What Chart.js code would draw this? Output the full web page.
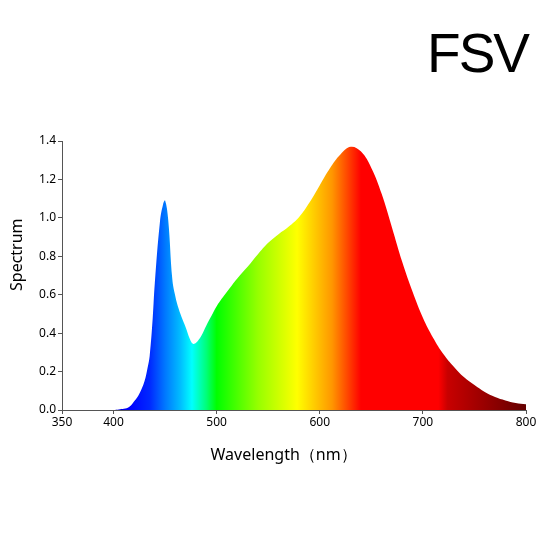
<!DOCTYPE html>
<html lang="en">
<head>
    <meta charset="UTF-8">
    <title>FSV</title>
    <style>
        body { margin: 0; background: #fff; }
        #wrap { position: relative; width: 555px; height: 555px; }
        #titulo {
            position: absolute; right: 27px; top: 18px;
            font-family: "Liberation Sans", Arial, sans-serif;
            font-size: 55px; line-height: 70px; color: #000;
            letter-spacing: -2px;
        }
    </style>
</head>
<body>
    <div id="wrap">
        <div id="titulo">FSV</div>
        <canvas id="myChart" width="555" height="555"></canvas>
    </div>

    <script src="https://cdn.jsdelivr.net/npm/chart.js@4"></script>
    <script>
        // wavelength (nm) and relative spectrum
        const wavelengths = [400, 405, 410, 415, 420, 425, 430, 433, 435, 438, 440, 445, 448, 450, 453, 457, 460, 463, 467, 470, 474, 477, 480, 485, 490, 495, 500, 510, 520, 530, 540, 550, 560, 570, 580, 590, 600, 610, 620, 630, 640, 650, 660, 670, 680, 690, 700, 710, 720, 730, 740, 750, 760, 770, 780, 790, 800];
        const spectrum = [0, 0.003, 0.006, 0.015, 0.045, 0.085, 0.15, 0.22, 0.28, 0.48, 0.66, 0.98, 1.07, 1.09, 0.99, 0.68, 0.59, 0.53, 0.47, 0.43, 0.37, 0.345, 0.35, 0.385, 0.44, 0.49, 0.54, 0.615, 0.685, 0.745, 0.81, 0.87, 0.915, 0.955, 1.005, 1.08, 1.17, 1.26, 1.33, 1.37, 1.345, 1.26, 1.125, 0.95, 0.77, 0.615, 0.48, 0.375, 0.29, 0.225, 0.17, 0.13, 0.094, 0.068, 0.05, 0.036, 0.03];
        const xTicks = [350, 400, 500, 600, 700, 800];
        const yTicks = [0, 0.2, 0.4, 0.6, 0.8, 1.0, 1.2, 1.4];

        // colores del espectro (nm, color)
        const paradas = [
            [400, 'rgb(0,0,200)'], [415, 'rgb(0,0,255)'], [435, 'rgb(0,40,255)'],
            [450, 'rgb(0,120,255)'], [465, 'rgb(0,190,255)'], [476, 'rgb(0,255,255)'],
            [490, 'rgb(0,255,120)'], [500, 'rgb(0,255,0)'], [540, 'rgb(150,255,0)'],
            [578, 'rgb(255,255,0)'], [612, 'rgb(255,150,0)'], [640, 'rgb(255,0,0)'],
            [715, 'rgb(255,0,0)'], [724, 'rgb(200,0,0)'], [800, 'rgb(100,0,0)']
        ];

        function gradiente(context) {
            const chart = context.chart;
            const area = chart.chartArea;
            if (!area) return 'rgba(0,0,0,0)';
            const x = chart.scales.x;
            const g = chart.ctx.createLinearGradient(area.left, 0, area.right, 0);
            const ancho = area.right - area.left;
            paradas.forEach(([nm, color]) => {
                const pos = (x.getPixelForValue(nm) - area.left) / ancho;
                g.addColorStop(Math.min(1, Math.max(0, pos)), color);
            });
            return g;
        }

        const fuente = { family: '"Noto Sans", "Open Sans", sans-serif', size: 12 };
        const fuenteTitulo = { family: '"Noto Sans", "Open Sans", sans-serif', size: 16 };
        const ejeColor = '#555';

        const ctx = document.getElementById('myChart').getContext('2d');
        new Chart(ctx, {
            type: 'line',
            data: {
                datasets: [{
                    data: wavelengths.map((w, i) => ({ x: w, y: spectrum[i] })),
                    backgroundColor: gradiente,
                    borderWidth: 0,
                    pointRadius: 0,
                    fill: 'origin',
                    tension: 0.4,
                }]
            },
            options: {
                responsive: false,
                animation: false,
                layout: { padding: { left: 0, top: 141, right: 29, bottom: 90 } },
                plugins: { legend: { display: false }, tooltip: { enabled: false } },
                scales: {
                    x: {
                        type: 'linear',
                        min: 350, max: 800,
                        afterBuildTicks: (axis) => { axis.ticks = xTicks.map(v => ({ value: v })); },
                        afterFit: (axis) => { axis.height = 55; },
                        border: { color: ejeColor, width: 1 },
                        grid: { display: true, drawOnChartArea: false, color: ejeColor, tickLength: 4 },
                        ticks: { color: '#000', font: fuente, padding: 1, maxRotation: 0 },
                        title: {
                            // trailing spaces nudge the label a bit left, like the original
                            display: true, text: 'Wavelength（nm）     ', color: '#000',
                            font: fuenteTitulo,
                            padding: { top: 0, bottom: 0 }
                        }
                    },
                    y: {
                        min: 0, max: 1.4,
                        afterBuildTicks: (axis) => { axis.ticks = yTicks.map(v => ({ value: v })); },
                        afterFit: (axis) => { axis.width = 62; },
                        border: { color: ejeColor, width: 1 },
                        grid: { display: true, drawOnChartArea: false, color: ejeColor, tickLength: 4 },
                        ticks: { color: '#000', font: fuente, padding: 2, callback: (v) => Number(v).toFixed(1) },
                        title: {
                            display: true, text: '          Spectrum', color: '#000',
                            font: fuenteTitulo,
                            padding: { top: 8, bottom: 0 }
                        }
                    }
                }
            }
        });
    </script>
</body>
</html>
